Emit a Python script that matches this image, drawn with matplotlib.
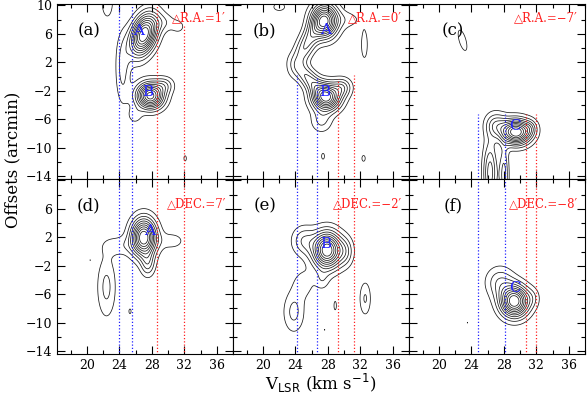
import numpy as np
import matplotlib.pyplot as plt
from matplotlib.ticker import MultipleLocator

plt.rcParams['font.family'] = ['DejaVu Serif', 'DejaVu Sans']
plt.rcParams['xtick.direction'] = 'in'
plt.rcParams['ytick.direction'] = 'in'
plt.rcParams['xtick.top'] = True
plt.rcParams['ytick.right'] = True

# --- emission components: [v0, y0, sigma_v, sigma_y, rho, amp] ---
clumps_a = [[27.0, 5.9, 1.15, 2.0, 0.35, 1.0],
            [29.6, 7.6, 1.0, 0.9, 0.0, 0.12],
            [31.3, 7.0, 0.6, 0.7, 0.0, 0.1],
            [24.4, 1.0, 0.6, 3.3, 0.0, 0.2],
            [22.5, 10.5, 0.7, 2.2, 0.0, 0.12],
            [27.8, -2.7, 1.15, 1.25, 0.0, 0.95],
            [29.6, -1.2, 0.8, 0.8, 0.0, 0.2],
            [25.9, -5.5, 0.6, 0.8, 0.0, 0.12],
            [32.1, -11.5, 0.22, 0.55, 0.0, 0.1]]
clumps_b = [[27.6, 7.8, 1.1, 1.6, 0.0, 1.0],
            [30.5, 8.0, 1.2, 0.9, 0.0, 0.12],
            [32.5, 4.5, 0.45, 2.3, 0.0, 0.12],
            [22.0, 9.8, 1.3, 1.0, 0.0, 0.1],
            [25.4, 4.6, 1.2, 2.3, 0.7, 0.4],
            [25.7, -0.4, 1.3, 1.6, -0.7, 0.4],
            [27.8, -2.9, 1.2, 1.3, 0.0, 1.0],
            [29.8, -1.5, 0.8, 0.9, 0.0, 0.3],
            [27.2, -6.3, 0.9, 1.1, 0.0, 0.2],
            [27.4, -11.2, 0.35, 0.8, 0.0, 0.1],
            [32.4, -11.5, 0.4, 0.8, 0.0, 0.1]]
clumps_c = [[22.9, 5.1, 0.6, 1.6, -0.6, 0.12],
            [29.5, -7.8, 1.25, 1.2, 0.0, 1.0],
            [27.0, -6.8, 0.9, 1.2, 0.0, 0.3],
            [31.3, -7.2, 0.6, 0.8, 0.0, 0.15],
            [26.3, -13.5, 0.6, 3.0, 0.0, 0.4],
            [28.0, -13.8, 0.4, 2.8, 0.0, 0.3]]
clumps_d = [[27.0, 2.0, 1.05, 1.8, 0.0, 1.0],
            [27.5, -1.8, 0.6, 1.2, 0.0, 0.25],
            [30.5, 1.5, 1.2, 0.9, 0.0, 0.12],
            [23.9, 0.8, 1.5, 1.0, 0.0, 0.13],
            [22.4, -5.0, 0.8, 3.0, 0.0, 0.2],
            [25.3, -8.4, 0.2, 0.5, 0.0, 0.1],
            [20.4, -1.2, 0.08, 0.1, 0.0, 0.09]]
clumps_e = [[27.9, 0.2, 1.2, 1.75, 0.0, 1.0],
            [25.0, 1.5, 1.0, 1.4, 0.0, 0.25],
            [30.2, 0.0, 0.7, 1.4, 0.0, 0.2],
            [27.3, -4.0, 0.6, 1.0, 0.0, 0.12],
            [23.8, -8.5, 0.9, 2.0, 0.0, 0.2],
            [25.0, -4.5, 1.0, 1.5, 0.0, 0.12],
            [28.9, -7.6, 0.22, 0.9, 0.0, 0.1],
            [27.6, -11.0, 0.1, 0.15, 0.0, 0.09],
            [32.6, -6.6, 0.5, 1.7, 0.0, 0.18]]
clumps_f = [[29.3, -7.0, 1.2, 1.5, 0.0, 1.0],
            [27.5, -4.3, 1.2, 1.5, 0.0, 0.25],
            [31.6, -6.5, 0.6, 1.0, 0.0, 0.1],
            [23.5, -10.0, 0.06, 0.15, 0.0, 0.09]]

levels = [0.08, 0.17, 0.26, 0.35, 0.44, 0.53, 0.62, 0.71, 0.80, 0.89]

panel_tags = ['(a)', '(b)', '(c)', '(d)', '(e)', '(f)']
offset_tags = ['\u25b3R.A.=1\u2032', '\u25b3R.A.=0\u2032', '\u25b3R.A.=\u22127\u2032',
               '\u25b3DEC.=7\u2032', '\u25b3DEC.=\u22122\u2032', '\u25b3DEC.=\u22128\u2032']
# clump letters: (label, v, offset)
letters = [[('A', 26.4, 6.4), ('B', 27.5, -2.2)],
           [('A', 27.7, 6.6), ('B', 27.6, -2.1)],
           [('C', 29.4, -6.9)],
           [('A', 27.7, 2.9)],
           [('B', 27.7, 1.1)],
           [('C', 29.4, -5.1)]]
# dotted velocity markers: (v, colour, top offset)
markers = [[(24.0, 'b', 11), (25.5, 'b', 11), (28.6, 'r', 11), (32.0, 'r', 7.1)],
           [(24.2, 'b', 0.2), (26.6, 'b', -0.2), (29.2, 'r', -0.3), (31.2, 'r', 0.2)],
           [(24.8, 'b', -5.2), (28.1, 'b', -5.2), (30.7, 'r', -5.2), (31.9, 'r', -5.2)],
           [(24.0, 'b', 11), (25.5, 'b', 11), (28.6, 'r', 11), (32.0, 'r', 11)],
           [(24.2, 'b', 11), (26.6, 'b', 11), (29.2, 'r', 11), (31.2, 'r', 11)],
           [(24.8, 'b', 11), (28.1, 'b', 11), (30.7, 'r', 11), (31.9, 'r', 11)]]
all_clumps = [clumps_a, clumps_b, clumps_c, clumps_d, clumps_e, clumps_f]

vel = np.arange(15.5, 38.6, 0.08)
off = np.arange(-16.0, 11.6, 0.08)
V, Y = np.meshgrid(vel, off)


def make_map(clumps):
    z = np.zeros_like(V)
    for v0, y0, sv, sy, rho, amp in clumps:
        dv = (V - v0) / sv
        dy = (Y - y0) / sy
        q = (dv**2 - 2 * rho * dv * dy + dy**2) / (1 - rho**2)
        z += amp * np.exp(-0.5 * q)
    return z / z.max()


fig = plt.figure(figsize=(5.87, 3.95), dpi=100)
L, R, T, B = 57 / 587, 585 / 587, 1 - 4 / 395, 1 - 354 / 395
w = (R - L) / 3
h = (T - B) / 2
col = {'b': '#2020ff', 'r': '#ff2020'}

for i in range(6):
    row, c = divmod(i, 3)
    ax = fig.add_axes([L + c * w, T - (row + 1) * h, w, h])
    ax.contour(V, Y, make_map(all_clumps[i]), levels=levels, colors='#1a1a1a',
               linewidths=0.55)
    for v, cc, top in markers[i]:
        ax.plot([v, v], [-20, top], color=col[cc], lw=0.9, ls=(0, (1, 1.6)))
    for name, v, y in letters[i]:
        ax.text(v, y, name, color=col['b'], fontsize=11, ha='center', va='center')
    ax.text(0.18 if c < 2 else 0.25, 0.845, panel_tags[i], transform=ax.transAxes,
            fontsize=12, ha='center', va='center')
    ax.text(0.96, 0.92 if row == 0 else 0.86, offset_tags[i], transform=ax.transAxes,
            color=col['r'], fontsize=8.5, ha='right', va='center')
    ax.set_xlim(16.3, 38.0)
    ax.set_ylim(-14.4, 10.2)
    ax.xaxis.set_major_locator(MultipleLocator(4))
    ax.xaxis.set_minor_locator(MultipleLocator(2))
    ax.set_yticks([10, 6, 2, -2, -6, -10, -14])
    ax.set_yticks([8, 4, 0, -4, -8, -12], minor=True)
    ax.tick_params(which='major', length=6, width=0.8, labelsize=9)
    ax.tick_params(which='minor', length=3, width=0.8)
    if row == 0:
        ax.set_xticklabels([])
    if c > 0:
        ax.set_yticklabels([])
    elif row == 1:
        ax.set_yticklabels(['', '6', '2', '\u22122', '\u22126', '\u221210', '\u221214'])

fig.text(0.022, 0.595, 'Offsets (arcmin)', rotation=90, fontsize=12,
         ha='center', va='center')
fig.text(L + 1.5 * w, 0.028, r'V$_{\rm LSR}$ (km s$^{-1}$)', fontsize=12,
         ha='center', va='center')

fig.savefig('out.png', dpi=100)
